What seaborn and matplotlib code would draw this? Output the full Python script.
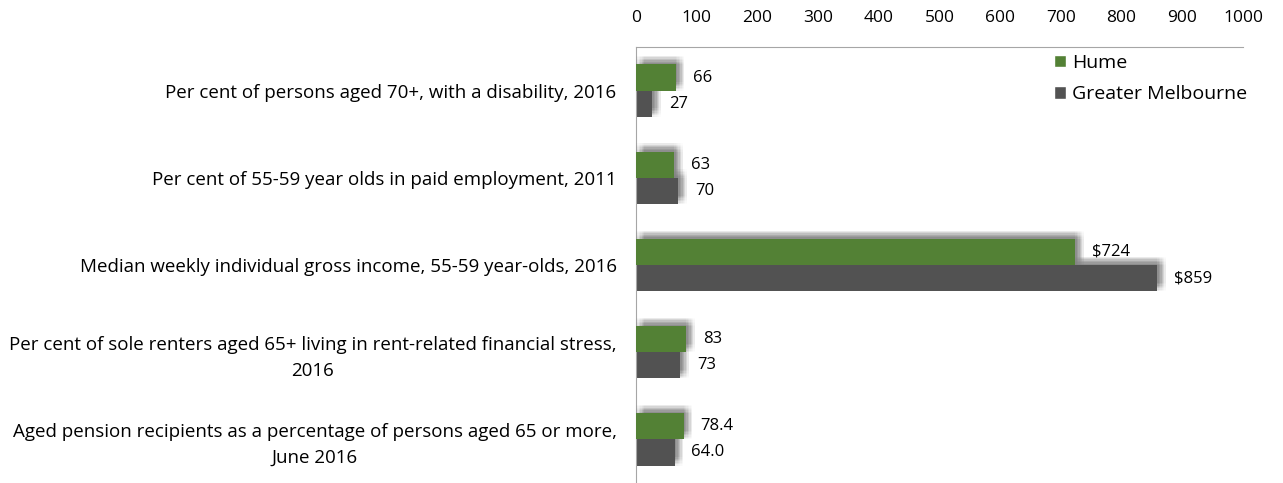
import pandas as pd
import matplotlib.pyplot as plt
import matplotlib.patheffects as pe
import seaborn as sns

# Data
categories = [
    'Per cent of persons aged 70+, with a disability, 2016',
    'Per cent of 55-59 year olds in paid employment, 2011',
    'Median weekly individual gross income, 55-59 year-olds, 2016',
    'Per cent of sole renters aged 65+ living in rent-related financial stress,\n2016',
    'Aged pension recipients as a percentage of persons aged 65 or more,\nJune 2016',
]
hume = [66, 63, 724, 83, 78.4]
greater_melb = [27, 70, 859, 73, 64.0]
hume_labels = ['66', '63', '$724', '83', '78.4']
melb_labels = ['27', '70', '$859', '73', '64.0']
series = ['Hume', 'Greater Melbourne']
xticks = list(range(0, 1001, 100))

df = pd.DataFrame({
    'Category': categories * 2,
    'Value': hume + greater_melb,
    'Area': [series[0]] * len(categories) + [series[1]] * len(categories),
})

sns.set_style('white')
plt.rcParams['font.family'] = ['Open Sans', 'DejaVu Sans']
plt.rcParams['font.size'] = 12
plt.rcParams['text.color'] = 'black'
plt.rcParams['xtick.color'] = 'black'
plt.rcParams['ytick.color'] = 'black'

fig = plt.figure(figsize=(12.83, 4.83), dpi=100)
ax = fig.add_axes([0.4957, 0.0, 0.4731, 0.9027])

sns.barplot(data=df, y='Category', x='Value', hue='Area', hue_order=series,
            palette=['#538135', '#525252'], orient='h', width=0.6,
            saturation=1, ax=ax, legend=True)

# soft blurred shadow, up and to the right of each bar
shadow = []
for dx in range(0, 7):
    for dy in range(0, 7):
        shadow.append(pe.SimplePatchShadow(offset=(dx, dy), shadow_rgbFace='black', alpha=0.011))
shadow.append(pe.Normal())

for i, cont in enumerate(ax.containers):
    for p in cont.patches:
        p.set_path_effects(shadow)
        p.set_zorder(3 if i == 0 else 2)
        p.set_edgecolor('none')

for cont, labels in zip(ax.containers, [hume_labels, melb_labels]):
    ax.bar_label(cont, labels=labels, padding=12, fontsize=12)

ax.set_xlim(0, 1000)
ax.set_ylim(4.5, -0.5)
ax.set_xticks(xticks)
ax.xaxis.tick_top()
ax.tick_params(axis='x', length=0, pad=15, labelsize=12.5)
ax.tick_params(axis='y', length=0, pad=14, labelsize=13.5)
for t in ax.get_yticklabels():
    t.set_multialignment('center')
    t.set_linespacing(1.55)
ax.set_xlabel('')
ax.set_ylabel('')

for s in ['right', 'bottom']:
    ax.spines[s].set_visible(False)
ax.spines['top'].set_color('#a6a6a6')
ax.spines['left'].set_color('#a6a6a6')

ax.legend(loc='upper right', bbox_to_anchor=(0.978, 0.905), bbox_transform=fig.transFigure,
          frameon=False, fontsize=14, handlelength=0.6, handleheight=0.6,
          handletextpad=0.3, labelspacing=0.7, borderaxespad=0)

fig.savefig('out.png', dpi=100)
plt.close()
